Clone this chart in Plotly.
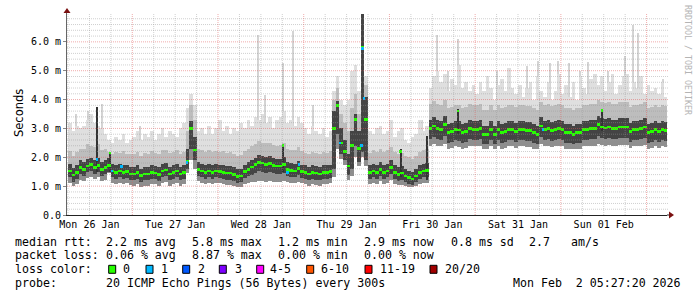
import plotly.graph_objects as go
import pandas as pd

# ---------------- data (milliseconds) ----------------
# hourly bins, first bin = Mon 26 Jan 06:00
bin_start = "2026-01-26 06:00"
n_bins = 168

median_ms = [
    1.52, 1.38, 1.47, 1.64, 1.58, 1.70, 1.74, 1.64, 1.72, 1.58, 1.64, 1.72, 1.52, 1.47, 1.52, 1.47, 1.50, 1.42,
    1.42, 1.47, 1.36, 1.42, 1.42, 1.47, 1.46, 1.41, 1.52, 1.56, 1.42, 1.47, 1.52, 1.42, 1.47, 1.87, 3.00, 2.25, 1.58, 1.52, 1.47, 1.52, 1.47, 1.52,
    1.50, 1.47, 1.45, 1.45, 1.40, 1.33, 1.35, 1.50, 1.58, 1.66, 1.74, 1.82, 1.80, 1.75, 1.78, 1.72, 1.70, 1.70, 1.75, 1.58, 1.55, 1.52, 1.62, 1.50,
    1.47, 1.42, 1.47, 1.45, 1.42, 1.47, 1.47, 1.50, 3.00, 3.80, 2.50, 2.20, 1.70, 2.40, 3.30, 2.30, 5.80, 3.30, 1.47, 1.52, 1.47, 1.58, 1.47, 1.52,
    1.64, 1.47, 1.41, 1.45, 1.35, 1.29, 1.25, 1.35, 1.47, 1.52, 1.55, 3.00, 3.08, 3.00, 2.97, 3.14, 2.86, 2.90, 2.97, 2.95, 2.86, 2.90, 3.00, 2.97,
    2.97, 3.00, 2.80, 2.80, 2.97, 2.80, 2.97, 2.86, 2.90, 2.97, 2.97, 2.90, 2.97, 2.97, 2.92, 2.92, 2.86, 2.80, 3.08, 2.97, 3.00, 2.92, 2.97, 3.00,
    2.97, 2.86, 2.86, 2.80, 2.86, 2.86, 2.97, 2.97, 3.00, 3.00, 3.14, 3.05, 3.02, 3.05, 3.00, 3.00, 3.05, 3.05, 3.05, 2.90, 2.97, 2.97, 3.00, 3.05,
    2.86, 2.90, 2.97, 2.90, 2.97, 2.92,
]
smoke_min = [
    1.12, 1.00, 1.07, 1.22, 1.18, 1.28, 1.32, 1.24, 1.30, 1.18, 1.22, 1.45, 1.12, 1.08, 1.12, 1.07, 1.10, 1.04,
    1.02, 1.07, 0.98, 1.02, 1.02, 1.07, 1.06, 1.01, 1.12, 1.16, 1.02, 1.07, 1.12, 1.02, 1.07, 1.45, 1.90, 1.60, 1.18, 1.12, 1.07, 1.12, 1.07, 1.12,
    1.10, 1.07, 1.05, 1.05, 1.00, 0.98, 0.98, 1.08, 1.12, 1.15, 1.15, 1.18, 1.18, 1.15, 1.18, 1.15, 1.15, 1.15, 1.18, 1.15, 1.12, 1.10, 1.15, 1.10,
    1.07, 1.02, 1.07, 1.05, 1.02, 1.07, 1.07, 1.10, 1.30, 2.30, 1.95, 1.75, 1.20, 1.35, 2.00, 1.70, 2.00, 1.70, 1.07, 1.12, 1.07, 1.18, 1.07, 1.12,
    1.20, 1.07, 1.03, 1.05, 1.00, 0.98, 0.96, 1.00, 1.07, 1.12, 1.12, 2.40, 2.45, 2.40, 2.38, 2.45, 2.30, 2.33, 2.38, 2.36, 2.30, 2.33, 2.40, 2.38,
    2.38, 2.40, 2.28, 2.28, 2.38, 2.28, 2.38, 2.30, 2.33, 2.38, 2.38, 2.33, 2.38, 2.38, 2.35, 2.35, 2.30, 2.28, 2.45, 2.38, 2.40, 2.35, 2.38, 2.40,
    2.38, 2.30, 2.30, 2.28, 2.30, 2.30, 2.38, 2.38, 2.40, 2.40, 2.45, 2.42, 2.40, 2.42, 2.40, 2.40, 2.42, 2.42, 2.42, 2.33, 2.38, 2.38, 2.40, 2.42,
    2.30, 2.33, 2.38, 2.33, 2.38, 2.35,
]
dark_low = [
    1.30, 1.16, 1.25, 1.42, 1.36, 1.48, 1.52, 1.42, 1.50, 1.36, 1.42, 1.50, 1.30, 1.25, 1.30, 1.25, 1.28, 1.20,
    1.20, 1.25, 1.14, 1.20, 1.20, 1.25, 1.24, 1.19, 1.30, 1.34, 1.20, 1.25, 1.30, 1.20, 1.25, 1.60, 2.30, 1.90, 1.36, 1.30, 1.25, 1.30, 1.25, 1.30,
    1.28, 1.25, 1.23, 1.23, 1.18, 1.12, 1.13, 1.28, 1.34, 1.40, 1.46, 1.52, 1.50, 1.46, 1.48, 1.44, 1.42, 1.42, 1.46, 1.36, 1.33, 1.30, 1.38, 1.28,
    1.25, 1.20, 1.25, 1.23, 1.20, 1.25, 1.25, 1.28, 1.60, 2.80, 2.10, 1.90, 1.40, 1.60, 2.40, 1.85, 2.20, 1.90, 1.25, 1.30, 1.25, 1.36, 1.25, 1.30,
    1.42, 1.25, 1.19, 1.23, 1.13, 1.08, 1.04, 1.13, 1.25, 1.30, 1.33, 2.62, 2.70, 2.62, 2.59, 2.75, 2.50, 2.53, 2.59, 2.57, 2.50, 2.53, 2.62, 2.59,
    2.59, 2.62, 2.45, 2.45, 2.59, 2.45, 2.59, 2.50, 2.53, 2.59, 2.59, 2.53, 2.59, 2.59, 2.55, 2.55, 2.50, 2.45, 2.70, 2.59, 2.62, 2.55, 2.59, 2.62,
    2.59, 2.50, 2.50, 2.45, 2.50, 2.50, 2.59, 2.59, 2.62, 2.62, 2.75, 2.66, 2.64, 2.66, 2.62, 2.62, 2.66, 2.66, 2.66, 2.53, 2.59, 2.59, 2.62, 2.66,
    2.50, 2.53, 2.59, 2.53, 2.59, 2.55,
]
dark_high = [
    1.77, 1.63, 1.72, 1.89, 1.83, 1.95, 1.99, 1.89, 1.97, 1.83, 1.89, 1.97, 1.77, 1.72, 1.77, 1.72, 1.75, 1.67,
    1.67, 1.72, 1.61, 1.67, 1.67, 1.72, 1.71, 1.66, 1.77, 1.81, 1.67, 1.72, 1.77, 1.67, 1.72, 2.30, 3.25, 2.70, 1.83, 1.77, 1.72, 1.77, 1.72, 1.77,
    1.75, 1.72, 1.70, 1.70, 1.65, 1.58, 1.60, 1.75, 1.83, 1.91, 1.99, 2.07, 2.05, 2.00, 2.03, 1.97, 1.95, 1.95, 2.00, 1.83, 1.80, 1.77, 1.87, 1.75,
    1.72, 1.67, 1.72, 1.70, 1.67, 1.72, 1.72, 1.75, 3.60, 3.95, 3.00, 2.60, 2.10, 2.90, 3.50, 2.90, 6.95, 4.10, 1.72, 1.77, 1.72, 1.83, 1.72, 1.77,
    1.89, 1.72, 1.66, 1.70, 1.60, 1.54, 1.50, 1.60, 1.72, 1.77, 1.80, 3.30, 3.38, 3.30, 3.27, 3.44, 3.16, 3.20, 3.27, 3.25, 3.16, 3.20, 3.30, 3.27,
    3.27, 3.30, 3.10, 3.10, 3.27, 3.10, 3.27, 3.16, 3.20, 3.27, 3.27, 3.20, 3.27, 3.27, 3.22, 3.22, 3.16, 3.10, 3.38, 3.27, 3.30, 3.22, 3.27, 3.30,
    3.27, 3.16, 3.16, 3.10, 3.16, 3.16, 3.27, 3.27, 3.30, 3.30, 3.44, 3.35, 3.32, 3.35, 3.30, 3.30, 3.35, 3.35, 3.35, 3.20, 3.27, 3.27, 3.30, 3.35,
    3.16, 3.20, 3.27, 3.20, 3.27, 3.22,
]
mid_high = [
    2.22, 2.05, 2.20, 2.30, 2.28, 2.45, 2.40, 2.34, 2.45, 2.25, 2.30, 2.20, 2.12, 2.17, 2.15, 2.22, 2.10, 2.12,
    2.12, 2.20, 2.06, 2.15, 2.10, 2.22, 2.16, 2.11, 2.25, 2.26, 2.15, 2.17, 2.25, 2.12, 2.20, 2.90, 3.80, 3.30, 2.28, 2.25, 2.17, 2.25, 2.20, 2.22,
    2.20, 2.22, 2.15, 2.18, 2.10, 2.05, 2.08, 2.22, 2.30, 2.38, 2.45, 2.55, 2.50, 2.48, 2.50, 2.42, 2.40, 2.42, 2.48, 2.30, 2.25, 2.24, 2.35, 2.22,
    2.15, 2.12, 2.20, 2.15, 2.10, 2.18, 2.15, 2.22, 4.00, 4.40, 3.50, 3.20, 2.90, 3.70, 4.20, 3.50, 6.95, 4.50, 2.15, 2.25, 2.20, 2.30, 2.17, 2.25,
    2.35, 2.18, 2.10, 2.15, 2.05, 2.00, 1.95, 2.05, 2.18, 2.25, 2.28, 3.85, 3.95, 3.85, 3.80, 4.00, 3.70, 3.75, 3.82, 3.80, 3.70, 3.76, 3.85, 3.82,
    3.82, 3.85, 3.65, 3.65, 3.82, 3.65, 3.82, 3.70, 3.75, 3.82, 3.82, 3.75, 3.82, 3.82, 3.78, 3.78, 3.70, 3.65, 3.92, 3.82, 3.85, 3.78, 3.82, 3.85,
    3.82, 3.70, 3.70, 3.65, 3.70, 3.70, 3.82, 3.82, 3.85, 3.85, 4.00, 3.90, 3.87, 3.90, 3.85, 3.85, 3.90, 3.90, 3.90, 3.75, 3.82, 3.82, 3.85, 3.90,
    3.70, 3.75, 3.82, 3.75, 3.82, 3.78,
]
smoke_max = [
    3.2, 2.9, 3.1, 3.0, 3.1, 3.3, 3.5, 3.2, 3.1, 3.0, 2.8, 2.6, 2.5, 2.7, 2.6, 2.8, 2.5, 2.6,
    2.7, 2.9, 2.6, 2.8, 2.7, 2.9, 2.6, 2.8, 3.0, 2.7, 2.9, 2.8, 2.7, 3.0, 3.2, 3.7, 4.2, 3.8, 2.9, 3.0, 2.8, 3.1, 2.8, 3.0,
    3.3, 2.9, 3.1, 2.8, 3.0, 2.9, 3.2, 3.0, 3.3, 3.1, 3.4, 3.3, 3.5, 3.2, 3.4, 3.0, 3.3, 3.4, 3.6, 3.2, 3.3, 3.1, 3.4, 3.2,
    3.0, 2.8, 3.1, 2.9, 2.8, 3.0, 2.7, 2.9, 4.3, 4.8, 4.0, 3.8, 4.0, 5.0, 5.2, 4.3, 6.95, 4.8, 2.9, 2.8, 3.0, 3.1, 2.8, 2.9,
    3.3, 2.7, 2.9, 3.0, 2.6, 2.5, 2.7, 2.8, 3.3, 2.9, 3.1, 4.4, 4.8, 5.0, 4.6, 4.9, 4.3, 4.7, 4.5, 5.2, 4.4, 4.6, 4.3, 4.5,
    4.2, 4.6, 4.3, 4.8, 4.4, 4.0, 4.5, 4.7, 4.3, 5.1, 4.4, 4.2, 4.5, 4.1, 4.4, 4.6, 4.0, 4.8, 4.3, 4.1, 4.6, 4.0, 4.3, 4.9,
    4.2, 4.5, 4.1, 4.6, 4.0, 4.8, 4.4, 4.2, 4.7, 4.9, 4.5, 4.8, 4.3, 4.6, 4.9, 4.2, 4.5, 4.8, 4.9, 4.3, 4.6, 4.4, 4.8, 4.2,
    4.5, 4.3, 4.4, 4.2, 4.6, 4.1,
]

# single-sample light spikes of the slowest pings
spike_time = ["2026-01-26 08:10", "2026-01-26 11:36", "2026-01-26 15:30", "2026-01-27 02:12",
              "2026-01-28 11:12", "2026-01-28 13:12", "2026-01-28 18:12", "2026-01-28 21:00",
              "2026-01-29 02:36", "2026-01-30 09:00", "2026-01-30 13:18", "2026-01-30 16:24",
              "2026-01-30 19:12", "2026-01-31 06:00", "2026-01-31 14:30", "2026-01-31 17:36",
              "2026-01-31 21:00", "2026-01-31 23:12", "2026-02-01 02:18", "2026-02-01 05:24",
              "2026-02-01 07:42", "2026-02-01 13:18", "2026-02-01 18:00", "2026-02-01 20:12",
              "2026-02-01 21:36", "2026-02-02 04:36"]
spike_low = [1.3, 1.3, 1.3, 1.2, 1.3, 1.3, 1.3, 1.3, 1.2, 1.2, 2.5, 2.5, 2.5,
             2.5, 2.5, 2.5, 2.5, 2.5, 2.5, 2.5, 2.5, 2.5, 2.5, 2.5, 2.5, 2.5]
spike_high = [3.5, 3.6, 3.86, 3.1, 6.25, 4.17, 5.27, 6.37, 3.8, 3.3, 6.25, 5.0, 6.1,
              5.0, 5.15, 5.33, 5.27, 5.33, 5.27, 5.0, 5.3, 5.0, 5.5, 6.6, 6.3, 4.7]

# single-sample dark (median) spikes
dspike_time = ["2026-01-26 14:06", "2026-01-26 17:48", "2026-01-28 18:12", "2026-01-30 03:12",
               "2026-01-30 10:36", "2026-01-30 19:12", "2026-02-01 11:36"]
dspike_low = [1.5, 1.5, 1.5, 1.3, 1.2, 2.8, 2.9]
dspike_high = [3.75, 2.2, 2.45, 2.27, 2.75, 3.66, 3.66]
dspike_med = [None, 2.15, 2.40, 2.20, None, 3.60, 3.62]

# samples with 1 lost ping (median drawn in loss colour "1")
loss1_time = ["2026-01-26 14:12", "2026-01-26 18:24", "2026-01-26 21:00", "2026-01-27 15:24",
              "2026-01-28 19:30", "2026-01-28 22:48", "2026-01-29 10:12", "2026-01-29 16:12",
              "2026-01-29 16:30", "2026-01-29 16:54", "2026-01-31 19:06"]
loss1_med = [1.93, 1.52, 1.69, 1.81, 1.47, 1.76, 2.50, 2.40, 5.77, 4.03, 2.97]

day_labels = ["Mon 26 Jan", "Tue 27 Jan", "Wed 28 Jan", "Thu 29 Jan", "Fri 30 Jan", "Sat 31 Jan", "Sun 01 Feb"]
y_ticks = [0, 1, 2, 3, 4, 5, 6]
y_ticktext = ["0.0", "1.0 m", "2.0 m", "3.0 m", "4.0 m", "5.0 m", "6.0 m"]

loss_labels = ["0", "1", "2", "3", "4-5", "6-10", "11-19", "20/20"]
loss_colors = ["#26ff00", "#00b8ff", "#0059ff", "#7e00ff", "#ff00ff", "#ff5500", "#ff0000", "#a10000"]

legend_rtt = ["median rtt:", "2.2 ms avg", "5.8 ms max", "1.2 ms min", "2.9 ms now", "0.8 ms sd", "2.7", "am/s"]
legend_loss = ["packet loss:", "0.06 % avg", "8.87 % max", "0.00 % min", "0.00 % now"]
probe_text = "20 ICMP Echo Pings (56 Bytes) every 300s"
stamp_text = "Mon Feb  2 05:27:20 2026"

# ---------------- figure ----------------
HOUR = 3600 * 1000
t0 = pd.Timestamp(bin_start)
centers = [t0 + pd.Timedelta(minutes=30) + pd.Timedelta(hours=i) for i in range(n_bins)]
x_start = pd.Timestamp("2026-01-26 05:43")
x_end = pd.Timestamp("2026-02-02 05:43")

W, H = 697, 297
L, R, T, B = 67, 30, 13, 82
PW, PH = W - L - R, H - T - B
MONO = "DejaVu Sans Mono"


def px(xp):
    return (xp - L) / PW


def py(yp):
    return (T + PH - yp) / PH


def band(lo, hi, color):
    return go.Bar(x=centers, y=[h - l for l, h in zip(lo, hi)], base=lo, width=HOUR,
                  marker=dict(color=color, line=dict(width=0)), hoverinfo="skip", showlegend=False)


fig = go.Figure()
# thin light spikes
fig.add_trace(go.Bar(x=pd.to_datetime(spike_time), y=[h - l for l, h in zip(spike_low, spike_high)],
                     base=spike_low, width=1000 * 1000,
                     marker=dict(color="#d4d4d4", line=dict(width=0)), showlegend=False))
fig.add_trace(band(smoke_min, smoke_max, "#dfdfdf"))
fig.add_trace(band(smoke_min, mid_high, "#bdbdbd"))
fig.add_trace(band(smoke_min, dark_high, "#8e8e8e"))
fig.add_trace(band(dark_low, dark_high, "#444444"))
# dark spikes
fig.add_trace(go.Bar(x=pd.to_datetime(dspike_time), y=[h - l for l, h in zip(dspike_low, dspike_high)],
                     base=dspike_low, width=1100 * 1000,
                     marker=dict(color="#333333", line=dict(width=0)), showlegend=False))
# median markers
MH = 0.09
fig.add_trace(go.Bar(x=centers, y=[MH] * n_bins, base=[m - MH / 2 for m in median_ms], width=HOUR,
                     marker=dict(color=loss_colors[0], line=dict(width=0)), showlegend=False))
dm_t = [t for t, m in zip(dspike_time, dspike_med) if m is not None]
dm_v = [m for m in dspike_med if m is not None]
fig.add_trace(go.Bar(x=pd.to_datetime(dm_t), y=[MH] * len(dm_v), base=[m - MH / 2 for m in dm_v],
                     width=2000 * 1000, marker=dict(color=loss_colors[0], line=dict(width=0)), showlegend=False))
fig.add_trace(go.Bar(x=pd.to_datetime(loss1_time), y=[MH] * len(loss1_med),
                     base=[m - MH / 2 for m in loss1_med], width=2000 * 1000,
                     marker=dict(color=loss_colors[1], line=dict(width=0)), showlegend=False))

GRID_MINOR = "rgba(150,150,150,0.45)"
GRID_MAJOR = "rgba(225,90,90,0.5)"
shapes = []
# horizontal grid (drawn over the smoke, like rrdtool)
for k in range(1, 35):
    v = k * 0.2
    col = GRID_MAJOR if abs(v - round(v)) < 1e-6 else GRID_MINOR
    shapes.append(dict(type="line", xref="paper", yref="y", x0=0, x1=1.002, y0=v, y1=v,
                       line=dict(color=col, width=1, dash="1px,1px"), layer="above"))
# vertical grid
for t in pd.date_range("2026-01-26 06:00", "2026-02-02 00:00", freq="6h"):
    col = GRID_MAJOR if t.hour == 0 else GRID_MINOR
    shapes.append(dict(type="line", xref="x", yref="paper", x0=t, x1=t, y0=0, y1=1,
                       line=dict(color=col, width=1, dash="1px,1px"), layer="above"))
# axis arrows
shapes.append(dict(type="path", xref="paper", yref="paper",
                   path=f"M {px(63.5)},{py(13)} L {px(70.5)},{py(13)} L {px(67)},{py(8)} Z",
                   fillcolor="#7a1010", line=dict(width=0), layer="above"))
shapes.append(dict(type="line", xref="paper", yref="paper", x0=1, x1=px(670), y0=0, y1=0,
                   line=dict(color="#222222", width=1), layer="above"))
shapes.append(dict(type="path", xref="paper", yref="paper",
                   path=f"M {px(669)},{py(211.5)} L {px(669)},{py(218.5)} L {px(674)},{py(215)} Z",
                   fillcolor="#7a1010", line=dict(width=0), layer="above"))

annotations = []


def text(s, xp, yp, size=11.6, color="#000000", anchor="left", angle=0, font=MONO):
    annotations.append(dict(text=s, x=px(xp), y=py(yp), xref="paper", yref="paper",
                            xanchor=anchor, yanchor="middle", showarrow=False,
                            borderpad=0, borderwidth=0, textangle=angle,
                            font=dict(family=font, size=size, color=color)))


rtt_x = [16, 107.3, 193.3, 279.3, 365, 451.7, 530, 572.3]
for s, xp in zip(legend_rtt, rtt_x):
    text(s.replace(" ", "&nbsp;"), xp - 1, 241.7)
loss_x = [16, 107.3, 193.3, 279.3, 365]
for s, xp in zip(legend_loss, loss_x):
    text(s.replace(" ", "&nbsp;"), xp - 1, 255.2)
text("loss&nbsp;color:", 15, 269.3)
box_x = [108.7, 146.0, 182.7, 219.3, 256.7, 306.7, 365.0, 430.0]
lab_x = [124.3, 161.8, 199.3, 236.2, 270.7, 321.7, 380.7, 445.7]
for lab, col, bx, lx in zip(loss_labels, loss_colors, box_x, lab_x):
    shapes.append(dict(type="rect", xref="paper", yref="paper", x0=px(bx), x1=px(bx + 7),
                       y0=py(273.3), y1=py(265.3), fillcolor=col,
                       line=dict(color="#000000", width=1), layer="above"))
    text(lab, lx - 1, 269.3)
text("probe:", 15, 282.7)
text(probe_text.replace(" ", "&nbsp;"), 106.3, 282.7)
text(stamp_text.replace(" ", "&nbsp;"), 681, 282.7, anchor="right")

text("Seconds", 12, 113, size=11.5, color="#000000", angle=-90, font="DejaVu Sans")
text("RRDTOOL / TOBI OETIKER", 688, 60, size=8.3, color="#b4b4b4", angle=90, anchor="center")

noon = [pd.Timestamp("2026-01-26 12:00") + pd.Timedelta(days=i) for i in range(len(day_labels))]

fig.update_layout(
    width=W, height=H, margin=dict(l=L, r=R, t=T, b=B, pad=0),
    paper_bgcolor="#ffffff", plot_bgcolor="#ffffff",
    barmode="overlay", bargap=0, showlegend=False,
    shapes=shapes, annotations=annotations,
    font=dict(family=MONO, size=10, color="#000000"),
    xaxis=dict(type="date", range=[x_start, x_end], tickmode="array", tickvals=noon,
               ticktext=day_labels, showgrid=False, zeroline=False, ticks="",
               showline=True, linecolor="#222222", linewidth=1,
               tickfont=dict(family=MONO, size=10, color="#000000")),
    yaxis=dict(range=[0, 7.0], tickmode="array", tickvals=y_ticks, ticktext=y_ticktext,
               showgrid=False, zeroline=False, ticks="outside", ticklen=3, tickcolor="#888888",
               showline=True, linecolor="#666666", linewidth=1,
               tickfont=dict(family=MONO, size=10, color="#000000")),
)

fig.write_html("out.html")
